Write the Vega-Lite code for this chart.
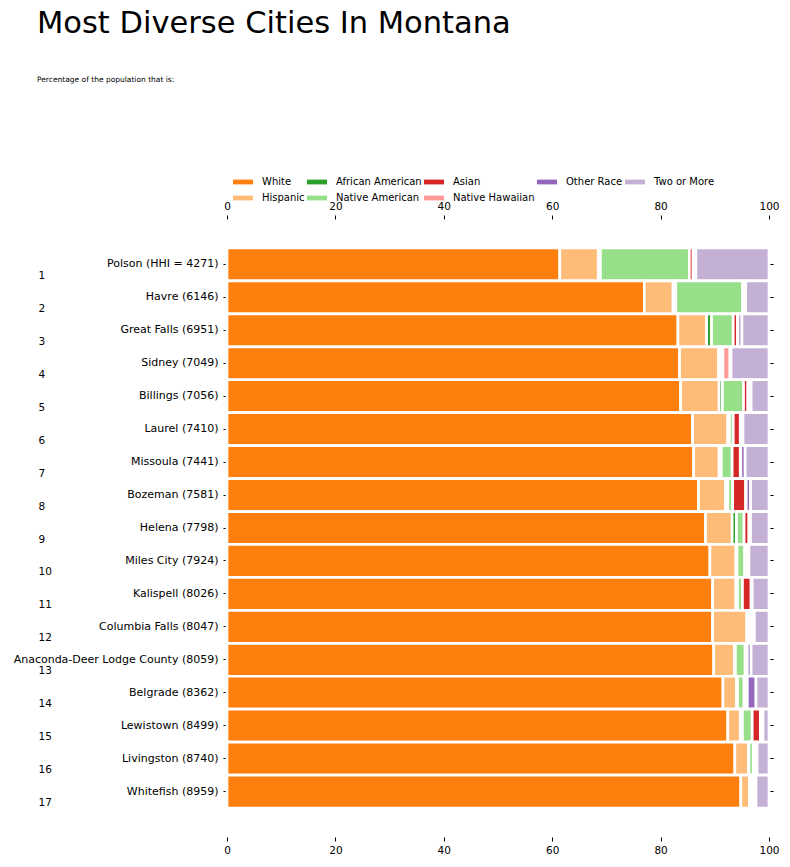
{
  "$schema": "https://vega.github.io/schema/vega-lite/v6.json",
  "autosize": "none",
  "width": 542,
  "height": 618,
  "padding": {"left": 227, "top": 219, "right": 21, "bottom": 30},
  "background": "white",
  "config": {
    "font": "DejaVu Sans",
    "view": {"stroke": null},
    "axis": {"domain": false, "grid": false, "labelColor": "black", "tickColor": "black", "tickWidth": 1, "title": null, "labelFont": "DejaVu Sans", "labelFlush": false}
  },
  "title": {
    "text": "Most Diverse Cities In Montana",
    "subtitle": "Percentage of the population that is:",
    "anchor": "start",
    "frame": "group",
    "dx": -190,
    "offset": 89,
    "fontSize": 30.5,
    "fontWeight": "normal",
    "color": "black",
    "font": "DejaVu Sans",
    "subtitleFont": "DejaVu Sans",
    "subtitleFontSize": 7.5,
    "subtitleColor": "black",
    "subtitlePadding": 36
  },
  "data": {
    "values": [
      {"rank": 1, "city": "Polson (HHI = 4271)", "race": "White", "pct": 61.4},
      {"rank": 1, "city": "Polson (HHI = 4271)", "race": "Hispanic", "pct": 7.1},
      {"rank": 1, "city": "Polson (HHI = 4271)", "race": "African American", "pct": 0.4},
      {"rank": 1, "city": "Polson (HHI = 4271)", "race": "Native American", "pct": 16.4},
      {"rank": 1, "city": "Polson (HHI = 4271)", "race": "Asian", "pct": 0.7},
      {"rank": 1, "city": "Polson (HHI = 4271)", "race": "Native Hawaiian", "pct": 0.1},
      {"rank": 1, "city": "Polson (HHI = 4271)", "race": "Other Race", "pct": 0.4},
      {"rank": 1, "city": "Polson (HHI = 4271)", "race": "Two or More", "pct": 13.5},
      {"rank": 2, "city": "Havre (6146)", "race": "White", "pct": 77.0},
      {"rank": 2, "city": "Havre (6146)", "race": "Hispanic", "pct": 5.3},
      {"rank": 2, "city": "Havre (6146)", "race": "African American", "pct": 0.5},
      {"rank": 2, "city": "Havre (6146)", "race": "Native American", "pct": 12.3},
      {"rank": 2, "city": "Havre (6146)", "race": "Asian", "pct": 0.3},
      {"rank": 2, "city": "Havre (6146)", "race": "Native Hawaiian", "pct": 0.0},
      {"rank": 2, "city": "Havre (6146)", "race": "Other Race", "pct": 0.3},
      {"rank": 2, "city": "Havre (6146)", "race": "Two or More", "pct": 4.3},
      {"rank": 3, "city": "Great Falls (6951)", "race": "White", "pct": 83.2},
      {"rank": 3, "city": "Great Falls (6951)", "race": "Hispanic", "pct": 5.3},
      {"rank": 3, "city": "Great Falls (6951)", "race": "African American", "pct": 0.9},
      {"rank": 3, "city": "Great Falls (6951)", "race": "Native American", "pct": 4.0},
      {"rank": 3, "city": "Great Falls (6951)", "race": "Asian", "pct": 0.8},
      {"rank": 3, "city": "Great Falls (6951)", "race": "Native Hawaiian", "pct": 0.1},
      {"rank": 3, "city": "Great Falls (6951)", "race": "Other Race", "pct": 0.7},
      {"rank": 3, "city": "Great Falls (6951)", "race": "Two or More", "pct": 5.0},
      {"rank": 4, "city": "Sidney (7049)", "race": "White", "pct": 83.5},
      {"rank": 4, "city": "Sidney (7049)", "race": "Hispanic", "pct": 7.2},
      {"rank": 4, "city": "Sidney (7049)", "race": "African American", "pct": 0.2},
      {"rank": 4, "city": "Sidney (7049)", "race": "Native American", "pct": 0.4},
      {"rank": 4, "city": "Sidney (7049)", "race": "Asian", "pct": 0.2},
      {"rank": 4, "city": "Sidney (7049)", "race": "Native Hawaiian", "pct": 1.3},
      {"rank": 4, "city": "Sidney (7049)", "race": "Other Race", "pct": 0.2},
      {"rank": 4, "city": "Sidney (7049)", "race": "Two or More", "pct": 7.0},
      {"rank": 5, "city": "Billings (7056)", "race": "White", "pct": 83.7},
      {"rank": 5, "city": "Billings (7056)", "race": "Hispanic", "pct": 7.1},
      {"rank": 5, "city": "Billings (7056)", "race": "African American", "pct": 0.6},
      {"rank": 5, "city": "Billings (7056)", "race": "Native American", "pct": 3.9},
      {"rank": 5, "city": "Billings (7056)", "race": "Asian", "pct": 0.8},
      {"rank": 5, "city": "Billings (7056)", "race": "Native Hawaiian", "pct": 0.1},
      {"rank": 5, "city": "Billings (7056)", "race": "Other Race", "pct": 0.5},
      {"rank": 5, "city": "Billings (7056)", "race": "Two or More", "pct": 3.3},
      {"rank": 6, "city": "Laurel (7410)", "race": "White", "pct": 85.9},
      {"rank": 6, "city": "Laurel (7410)", "race": "Hispanic", "pct": 6.5},
      {"rank": 6, "city": "Laurel (7410)", "race": "African American", "pct": 0.3},
      {"rank": 6, "city": "Laurel (7410)", "race": "Native American", "pct": 0.7},
      {"rank": 6, "city": "Laurel (7410)", "race": "Asian", "pct": 1.3},
      {"rank": 6, "city": "Laurel (7410)", "race": "Native Hawaiian", "pct": 0.1},
      {"rank": 6, "city": "Laurel (7410)", "race": "Other Race", "pct": 0.4},
      {"rank": 6, "city": "Laurel (7410)", "race": "Two or More", "pct": 4.8},
      {"rank": 7, "city": "Missoula (7441)", "race": "White", "pct": 86.1},
      {"rank": 7, "city": "Missoula (7441)", "race": "Hispanic", "pct": 4.7},
      {"rank": 7, "city": "Missoula (7441)", "race": "African American", "pct": 0.4},
      {"rank": 7, "city": "Missoula (7441)", "race": "Native American", "pct": 2.0},
      {"rank": 7, "city": "Missoula (7441)", "race": "Asian", "pct": 1.5},
      {"rank": 7, "city": "Missoula (7441)", "race": "Native Hawaiian", "pct": 0.1},
      {"rank": 7, "city": "Missoula (7441)", "race": "Other Race", "pct": 0.8},
      {"rank": 7, "city": "Missoula (7441)", "race": "Two or More", "pct": 4.4},
      {"rank": 8, "city": "Bozeman (7581)", "race": "White", "pct": 87.0},
      {"rank": 8, "city": "Bozeman (7581)", "race": "Hispanic", "pct": 5.0},
      {"rank": 8, "city": "Bozeman (7581)", "race": "African American", "pct": 0.4},
      {"rank": 8, "city": "Bozeman (7581)", "race": "Native American", "pct": 0.9},
      {"rank": 8, "city": "Bozeman (7581)", "race": "Asian", "pct": 2.4},
      {"rank": 8, "city": "Bozeman (7581)", "race": "Native Hawaiian", "pct": 0.1},
      {"rank": 8, "city": "Bozeman (7581)", "race": "Other Race", "pct": 0.8},
      {"rank": 8, "city": "Bozeman (7581)", "race": "Two or More", "pct": 3.4},
      {"rank": 9, "city": "Helena (7798)", "race": "White", "pct": 88.3},
      {"rank": 9, "city": "Helena (7798)", "race": "Hispanic", "pct": 4.9},
      {"rank": 9, "city": "Helena (7798)", "race": "African American", "pct": 0.8},
      {"rank": 9, "city": "Helena (7798)", "race": "Native American", "pct": 1.4},
      {"rank": 9, "city": "Helena (7798)", "race": "Asian", "pct": 0.9},
      {"rank": 9, "city": "Helena (7798)", "race": "Native Hawaiian", "pct": 0.1},
      {"rank": 9, "city": "Helena (7798)", "race": "Other Race", "pct": 0.2},
      {"rank": 9, "city": "Helena (7798)", "race": "Two or More", "pct": 3.4},
      {"rank": 10, "city": "Miles City (7924)", "race": "White", "pct": 89.1},
      {"rank": 10, "city": "Miles City (7924)", "race": "Hispanic", "pct": 4.8},
      {"rank": 10, "city": "Miles City (7924)", "race": "African American", "pct": 0.2},
      {"rank": 10, "city": "Miles City (7924)", "race": "Native American", "pct": 1.4},
      {"rank": 10, "city": "Miles City (7924)", "race": "Asian", "pct": 0.4},
      {"rank": 10, "city": "Miles City (7924)", "race": "Native Hawaiian", "pct": 0.1},
      {"rank": 10, "city": "Miles City (7924)", "race": "Other Race", "pct": 0.3},
      {"rank": 10, "city": "Miles City (7924)", "race": "Two or More", "pct": 3.7},
      {"rank": 11, "city": "Kalispell (8026)", "race": "White", "pct": 89.6},
      {"rank": 11, "city": "Kalispell (8026)", "race": "Hispanic", "pct": 4.3},
      {"rank": 11, "city": "Kalispell (8026)", "race": "African American", "pct": 0.3},
      {"rank": 11, "city": "Kalispell (8026)", "race": "Native American", "pct": 0.9},
      {"rank": 11, "city": "Kalispell (8026)", "race": "Asian", "pct": 1.6},
      {"rank": 11, "city": "Kalispell (8026)", "race": "Native Hawaiian", "pct": 0.1},
      {"rank": 11, "city": "Kalispell (8026)", "race": "Other Race", "pct": 0.1},
      {"rank": 11, "city": "Kalispell (8026)", "race": "Two or More", "pct": 3.1},
      {"rank": 12, "city": "Columbia Falls (8047)", "race": "White", "pct": 89.6},
      {"rank": 12, "city": "Columbia Falls (8047)", "race": "Hispanic", "pct": 6.3},
      {"rank": 12, "city": "Columbia Falls (8047)", "race": "African American", "pct": 0.1},
      {"rank": 12, "city": "Columbia Falls (8047)", "race": "Native American", "pct": 0.4},
      {"rank": 12, "city": "Columbia Falls (8047)", "race": "Asian", "pct": 0.5},
      {"rank": 12, "city": "Columbia Falls (8047)", "race": "Native Hawaiian", "pct": 0.1},
      {"rank": 12, "city": "Columbia Falls (8047)", "race": "Other Race", "pct": 0.3},
      {"rank": 12, "city": "Columbia Falls (8047)", "race": "Two or More", "pct": 2.7},
      {"rank": 13, "city": "Anaconda-Deer Lodge County (8059)", "race": "White", "pct": 89.8},
      {"rank": 13, "city": "Anaconda-Deer Lodge County (8059)", "race": "Hispanic", "pct": 3.8},
      {"rank": 13, "city": "Anaconda-Deer Lodge County (8059)", "race": "African American", "pct": 0.2},
      {"rank": 13, "city": "Anaconda-Deer Lodge County (8059)", "race": "Native American", "pct": 1.8},
      {"rank": 13, "city": "Anaconda-Deer Lodge County (8059)", "race": "Asian", "pct": 0.4},
      {"rank": 13, "city": "Anaconda-Deer Lodge County (8059)", "race": "Native Hawaiian", "pct": 0.0},
      {"rank": 13, "city": "Anaconda-Deer Lodge County (8059)", "race": "Other Race", "pct": 0.7},
      {"rank": 13, "city": "Anaconda-Deer Lodge County (8059)", "race": "Two or More", "pct": 3.3},
      {"rank": 14, "city": "Belgrade (8362)", "race": "White", "pct": 91.5},
      {"rank": 14, "city": "Belgrade (8362)", "race": "Hispanic", "pct": 2.5},
      {"rank": 14, "city": "Belgrade (8362)", "race": "African American", "pct": 0.2},
      {"rank": 14, "city": "Belgrade (8362)", "race": "Native American", "pct": 1.2},
      {"rank": 14, "city": "Belgrade (8362)", "race": "Asian", "pct": 0.4},
      {"rank": 14, "city": "Belgrade (8362)", "race": "Native Hawaiian", "pct": 0.2},
      {"rank": 14, "city": "Belgrade (8362)", "race": "Other Race", "pct": 1.6},
      {"rank": 14, "city": "Belgrade (8362)", "race": "Two or More", "pct": 2.4},
      {"rank": 15, "city": "Lewistown (8499)", "race": "White", "pct": 92.4},
      {"rank": 15, "city": "Lewistown (8499)", "race": "Hispanic", "pct": 2.3},
      {"rank": 15, "city": "Lewistown (8499)", "race": "African American", "pct": 0.4},
      {"rank": 15, "city": "Lewistown (8499)", "race": "Native American", "pct": 1.8},
      {"rank": 15, "city": "Lewistown (8499)", "race": "Asian", "pct": 1.5},
      {"rank": 15, "city": "Lewistown (8499)", "race": "Native Hawaiian", "pct": 0.1},
      {"rank": 15, "city": "Lewistown (8499)", "race": "Other Race", "pct": 0.4},
      {"rank": 15, "city": "Lewistown (8499)", "race": "Two or More", "pct": 1.1},
      {"rank": 16, "city": "Livingston (8740)", "race": "White", "pct": 93.7},
      {"rank": 16, "city": "Livingston (8740)", "race": "Hispanic", "pct": 2.5},
      {"rank": 16, "city": "Livingston (8740)", "race": "African American", "pct": 0.1},
      {"rank": 16, "city": "Livingston (8740)", "race": "Native American", "pct": 0.8},
      {"rank": 16, "city": "Livingston (8740)", "race": "Asian", "pct": 0.4},
      {"rank": 16, "city": "Livingston (8740)", "race": "Native Hawaiian", "pct": 0.0},
      {"rank": 16, "city": "Livingston (8740)", "race": "Other Race", "pct": 0.3},
      {"rank": 16, "city": "Livingston (8740)", "race": "Two or More", "pct": 2.2},
      {"rank": 17, "city": "Whitefish (8959)", "race": "White", "pct": 94.8},
      {"rank": 17, "city": "Whitefish (8959)", "race": "Hispanic", "pct": 1.6},
      {"rank": 17, "city": "Whitefish (8959)", "race": "African American", "pct": 0.1},
      {"rank": 17, "city": "Whitefish (8959)", "race": "Native American", "pct": 0.3},
      {"rank": 17, "city": "Whitefish (8959)", "race": "Asian", "pct": 0.5},
      {"rank": 17, "city": "Whitefish (8959)", "race": "Native Hawaiian", "pct": 0.0},
      {"rank": 17, "city": "Whitefish (8959)", "race": "Other Race", "pct": 0.3},
      {"rank": 17, "city": "Whitefish (8959)", "race": "Two or More", "pct": 2.4}
    ]
  },
  "transform": [
    {"calculate": "indexof(['White','Hispanic','African American','Native American','Asian','Native Hawaiian','Other Race','Two or More'], datum.race)", "as": "ord"}
  ],
  "layer": [
    {
      "mark": {"type": "bar", "stroke": "white", "strokeWidth": 2.7},
      "encoding": {
        "y": {
          "field": "city", "type": "nominal",
          "sort": {"field": "rank", "op": "min", "order": "ascending"},
          "scale": {"paddingInner": 0, "paddingOuter": 0.88},
          "axis": {"orient": "left", "labelFontSize": 11, "tickSize": 4, "labelPadding": 5, "labelLimit": 400}
        },
        "x": {
          "field": "pct", "type": "quantitative", "stack": "zero",
          "scale": {"domain": [0, 100], "nice": false},
          "axis": {"orient": "bottom", "values": [0, 20, 40, 60, 80, 100], "labelFontSize": 10.5, "tickSize": 4, "labelPadding": 4}
        },
        "color": {
          "field": "race", "type": "nominal",
          "scale": {
            "domain": ["White", "African American", "Asian", "Other Race", "Two or More", "Hispanic", "Native American", "Native Hawaiian"],
            "range": ["#ff7f0e", "#2ca02c", "#d62728", "#9467bd", "#c5b0d5", "#ffbb78", "#98df8a", "#ff9896"]
          },
          "legend": {
            "title": null,
            "orient": "none",
            "legendX": 6,
            "legendY": -47,
            "direction": "horizontal",
            "columns": 5,
            "symbolType": "M-1,-0.24L1,-0.24L1,0.24L-1,0.24Z",
            "symbolSize": 400,
            "symbolStrokeWidth": 0,
            "labelFontSize": 10,
            "labelColor": "black",
            "labelOffset": 9,
            "columnPadding": 2,
            "rowPadding": 1,
            "padding": 0
          }
        },
        "order": {"field": "ord", "type": "quantitative"}
      }
    },
    {
      "mark": {"type": "bar", "opacity": 0},
      "encoding": {
        "y": {
          "field": "rank", "type": "ordinal",
          "scale": {"paddingInner": 0, "paddingOuter": 0.88},
          "axis": {"orient": "left", "ticks": false, "tickSize": 0, "labelPadding": 189, "labelAlign": "left", "labelOffset": 11.5, "labelFontSize": 10.5}
        }
      }
    },
    {
      "mark": {"type": "bar", "opacity": 0},
      "encoding": {
        "y": {
          "field": "city", "type": "nominal",
          "sort": {"field": "rank", "op": "min", "order": "ascending"},
          "scale": {"paddingInner": 0, "paddingOuter": 0.88},
          "axis": {"orient": "right", "labels": false, "tickSize": 4}
        },
        "x": {
          "field": "pct", "type": "quantitative", "stack": null,
          "scale": {"domain": [0, 100], "nice": false},
          "axis": {"orient": "top", "values": [0, 20, 40, 60, 80, 100], "labelFontSize": 10.5, "tickSize": 4, "labelPadding": 4}
        }
      }
    }
  ],
  "resolve": {
    "scale": {"x": "independent", "y": "independent"},
    "axis": {"x": "independent", "y": "independent"}
  }
}
